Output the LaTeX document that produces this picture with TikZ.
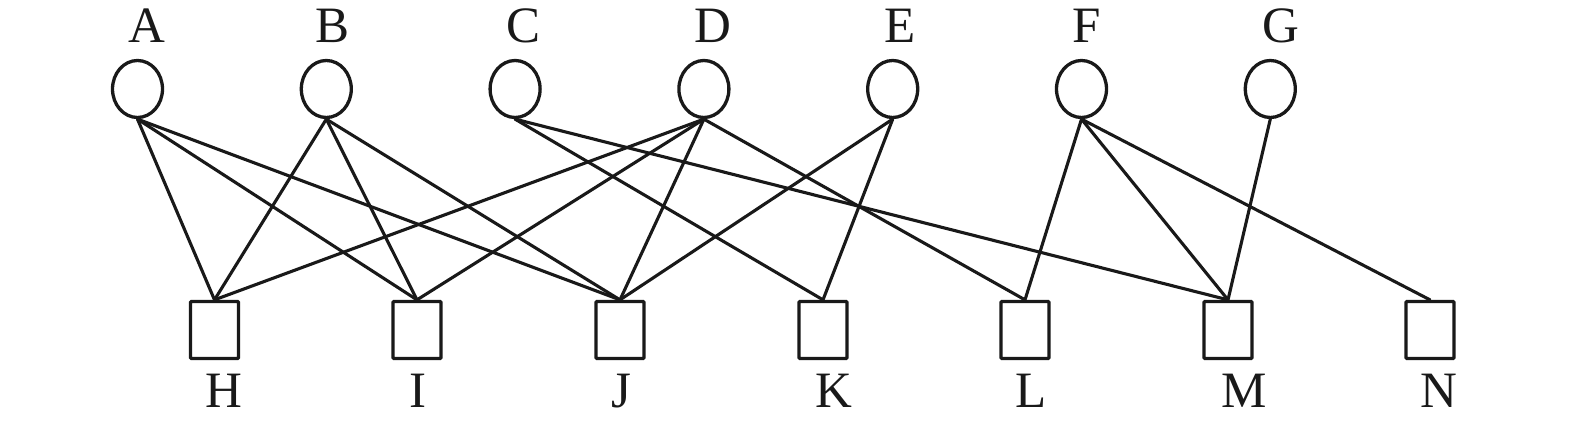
\documentclass[tikz,border=0pt]{standalone}
\usepackage{fontspec}
\setmainfont{Liberation Serif}
\usetikzlibrary{shapes.geometric}
\begin{document}
\begin{tikzpicture}[x=1pt,y=-1pt,
  vert/.style={ellipse,draw=black!90,line width=3.3pt,minimum width=50pt,minimum height=57pt,inner sep=0pt},
  box/.style={rectangle,draw=black!90,line width=3.3pt,minimum width=48pt,minimum height=57pt,inner sep=0pt,rounded corners=1pt},
  lab/.style={anchor=base,inner sep=0pt,font=\fontsize{51}{56}\selectfont,text=black!90},
  edge/.style={draw=black!90,line width=3.1pt}]
\useasboundingbox (0,0) rectangle (1575,422);
% top ellipses
\node[vert] (A) at (137.5,89) {};
\node[vert] (B) at (326.3,89) {};
\node[vert] (C) at (515.1,89) {};
\node[vert] (D) at (703.9,89) {};
\node[vert] (E) at (892.7,89) {};
\node[vert] (F) at (1081.5,89) {};
\node[vert] (G) at (1270.3,89) {};
% bottom boxes
\node[box] (H) at (214.5,330) {};
\node[box] (I) at (417,330) {};
\node[box] (J) at (620,330) {};
\node[box] (K) at (823,330) {};
\node[box] (L) at (1025,330) {};
\node[box] (M) at (1228,330) {};
\node[box] (N) at (1430,330) {};
% labels
\node[lab] (lA) at (147,43) {A};
\node[lab] (lB) at (333,43) {B};
\node[lab] (lC) at (524,43) {C};
\node[lab] (lD) at (713,43) {D};
\node[lab] (lE) at (900,43) {E};
\node[lab] (lF) at (1087,43) {F};
\node[lab] (lG) at (1281,43) {G};
\node[lab] (lH) at (224,407) {H};
\node[lab] (lI) at (418,407) {I};
\node[lab] (lJ) at (621,407) {J};
\node[lab] (lK) at (834,407) {K};
\node[lab] (lL) at (1031,407) {L};
\node[lab] (lM) at (1244,407) {M};
\node[lab] (lN) at (1439,407) {N};
% edges
\foreach \u/\v in {A/H,A/I,A/J,B/H,B/I,B/J,C/K,C/M,D/H,D/I,D/J,D/L,E/J,E/K,F/L,F/M,F/N,G/M}
  \draw[edge,line cap=round] (\u.south) -- (\v.north);
\end{tikzpicture}
\end{document}
